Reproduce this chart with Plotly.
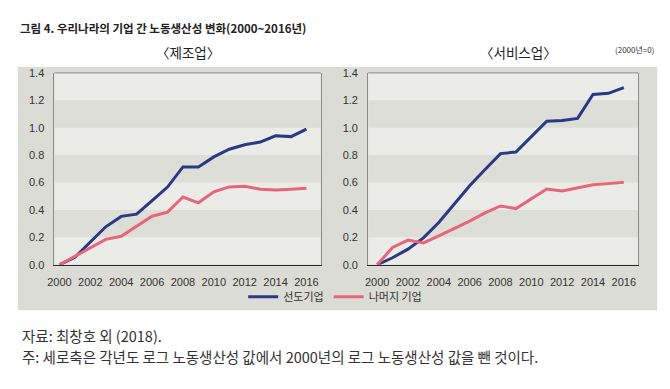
import plotly.graph_objects as go

years = list(range(2000, 2017))

# 제조업 (manufacturing)
mfg_leader = [0.0, 0.054, 0.166, 0.277, 0.353, 0.369, 0.468, 0.567, 0.714, 0.714,
              0.787, 0.843, 0.876, 0.895, 0.941, 0.935, 0.99]
mfg_rest = [0.0, 0.061, 0.123, 0.185, 0.208, 0.282, 0.354, 0.384, 0.494, 0.452,
            0.532, 0.568, 0.573, 0.551, 0.545, 0.551, 0.558]

# 서비스업 (services)
svc_leader = [0.0, 0.051, 0.114, 0.196, 0.308, 0.446, 0.577, 0.695, 0.811, 0.822,
              0.932, 1.047, 1.052, 1.068, 1.242, 1.251, 1.292]
svc_rest = [0.0, 0.126, 0.18, 0.159, 0.21, 0.263, 0.318, 0.378, 0.429, 0.41,
            0.484, 0.552, 0.538, 0.56, 0.583, 0.592, 0.602]

series_names = ["선도기업", "나머지 기업"]
panel_titles = ["〈제조업〉", "〈서비스업〉"]
x_ticks = list(range(2000, 2017, 2))
y_ticks = [0.0, 0.2, 0.4, 0.6, 0.8, 1.0, 1.2, 1.4]
band_starts = [0.2, 0.6, 1.0]

title_text = "그림 4. 우리나라의 기업 간 노동생산성 변화(2000~2016년)"
unit_text = "(2000년=0)"
source_text = "자료: 최창호 외 (2018)."
note_text = "주: 세로축은 각년도 로그 노동생산성 값에서 2000년의 로그 노동생산성 값을 뺀 것이다."

W, H = 670, 389
BLUE = "#2b3886"
PINK = "#e8667c"
KFONT = "Noto Sans CJK KR, Noto Sans CJK SC, sans-serif"
NFONT = "Liberation Sans, Arial, sans-serif"


def px(x):
    return x / W


def py(y):
    return (H - y) / H


fig = go.Figure()

fig.add_trace(go.Scatter(x=years, y=mfg_leader, mode="lines", name=series_names[0],
                         line=dict(color=BLUE, width=3), xaxis="x", yaxis="y",
                         legendgroup="a"))
fig.add_trace(go.Scatter(x=years, y=mfg_rest, mode="lines", name=series_names[1],
                         line=dict(color=PINK, width=3), xaxis="x", yaxis="y",
                         legendgroup="b"))
fig.add_trace(go.Scatter(x=years, y=svc_leader, mode="lines", name=series_names[0],
                         line=dict(color=BLUE, width=3), xaxis="x2", yaxis="y2",
                         showlegend=False, legendgroup="a"))
fig.add_trace(go.Scatter(x=years, y=svc_rest, mode="lines", name=series_names[1],
                         line=dict(color=PINK, width=3), xaxis="x2", yaxis="y2",
                         showlegend=False, legendgroup="b"))

ydom = [py(267), py(69)]
xcommon = dict(
    tickmode="array", tickvals=x_ticks, ticktext=[str(t) for t in x_ticks],
    showgrid=False, zeroline=False, showline=True, linecolor="#2a2a2a", linewidth=1,
    ticks="", ticklabelstandoff=7,
    tickfont=dict(family=NFONT, size=11, color="#333"),
)
ycommon = dict(
    range=[0, 1.4], tickmode="array", tickvals=y_ticks,
    ticktext=[f"{v:.1f}" for v in y_ticks],
    showgrid=False, zeroline=False, showline=True, linecolor="#8c8c8c", linewidth=1,
    mirror=True, ticks="", ticklabelstandoff=7,
    tickfont=dict(family=NFONT, size=11, color="#333"),
)

fig.update_layout(
    width=W, height=H,
    margin=dict(l=0, r=0, t=0, b=0),
    paper_bgcolor="rgba(255,255,255,0)",
    plot_bgcolor="rgba(255,255,255,0)",
    xaxis=dict(domain=[px(48), px(317)], range=[1999.68, 2016.92], anchor="y", **xcommon),
    yaxis=dict(domain=ydom, anchor="x", **ycommon),
    xaxis2=dict(domain=[px(365), px(638)], range=[1999.42, 2016.94], anchor="y2", **xcommon),
    yaxis2=dict(domain=ydom, anchor="x2", **ycommon),
    legend=dict(orientation="h", x=0.495, xanchor="center", y=py(300), yanchor="middle",
                bgcolor="rgba(0,0,0,0)", font=dict(family=KFONT, size=11, color="#333")),
    showlegend=True,
)

# gray panel behind both plots
fig.add_shape(type="rect", xref="paper", yref="paper", x0=px(11), x1=px(657),
              y0=py(314), y1=py(63), fillcolor="#dcdcd6", line_width=0, layer="below")
# plot backgrounds, darker horizontal bands and top border
for xr, yr, ydr in [("x domain", "y", "y domain"), ("x2 domain", "y2", "y2 domain")]:
    fig.add_shape(type="rect", xref=xr, yref=yr, x0=0, x1=1, y0=0, y1=1.4,
                  fillcolor="#ebebe7", line_width=0, layer="below")
    for lo in band_starts:
        fig.add_shape(type="rect", xref=xr, yref=yr, x0=0, x1=1, y0=lo, y1=lo + 0.2,
                      fillcolor="#deded9", line_width=0, layer="below")
    fig.add_shape(type="line", xref=xr, yref=ydr, x0=0, x1=1, y0=1, y1=1,
                  line=dict(color="#8c8c8c", width=1), layer="above")

annotations = [
    dict(text=title_text, x=px(11), y=py(23), xref="paper", yref="paper",
         xanchor="left", yanchor="middle", showarrow=False,
         font=dict(family=KFONT, size=11.5, color="#222", weight="bold")),
    dict(text=panel_titles[0], x=px(183), y=py(47), xref="paper", yref="paper",
         xanchor="center", yanchor="middle", showarrow=False,
         font=dict(family=KFONT, size=13.5, color="#222")),
    dict(text=panel_titles[1], x=px(517), y=py(47), xref="paper", yref="paper",
         xanchor="center", yanchor="middle", showarrow=False,
         font=dict(family=KFONT, size=13.5, color="#222")),
    dict(text=unit_text, x=px(656), y=py(45), xref="paper", yref="paper",
         xanchor="right", yanchor="middle", showarrow=False,
         font=dict(family=KFONT, size=8, color="#333")),
    dict(text=source_text, x=px(13), y=py(340), xref="paper", yref="paper",
         xanchor="left", yanchor="middle", showarrow=False,
         font=dict(family=KFONT, size=14.5, color="#333")),
    dict(text=note_text, x=px(13), y=py(362), xref="paper", yref="paper",
         xanchor="left", yanchor="middle", showarrow=False,
         font=dict(family=KFONT, size=14.5, color="#333")),
]
fig.update_layout(annotations=annotations)

fig.write_html(
    "out.html",
    config={"displayModeBar": False},
    post_script="document.body.style.margin='0';document.body.style.overflow='hidden';",
)
